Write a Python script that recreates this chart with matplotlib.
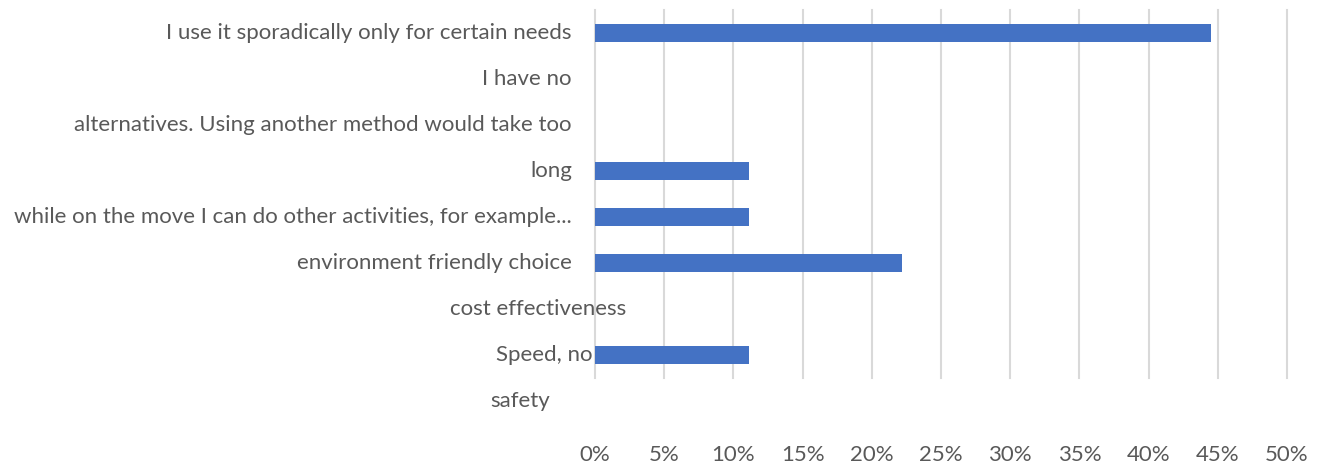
import matplotlib
matplotlib.use("Agg")
import matplotlib.pyplot as plt
from matplotlib.ticker import FuncFormatter

# data
labels = ["I use it sporadically only for certain needs",
          "I have no",
          "alternatives. Using another method would take too",
          "long",
          "while on the move I can do other activities, for example...",
          "environment friendly choice",
          "cost effectiveness",
          "Speed, no",
          "safety"]
values = [44.5, 0, 0, 11.1, 11.1, 22.2, 0, 11.1, 0]
xticks = [0, 5, 10, 15, 20, 25, 30, 35, 40, 45, 50]

# label placement (pixel offset from the 0% line, alignment)
label_offset = [-23, -23, -23, -23, -23, -23, -57, -2, -75]
label_ha = ["right"] * 6 + ["center", "right", "center"]

TEXT = "#595959"
GRID = "#D9D9D9"
BAR = "#4472C4"
FS = 16

plt.rcParams['font.family'] = ['Lato', 'DejaVu Sans']

fig = plt.figure(figsize=(13.28, 4.68), dpi=100)
ax = fig.add_axes([595/1328, 1 - 378/468, 692/1328, 368/468])

ypos = list(range(len(labels)))
ax.barh(ypos[:8], values[:8], height=0.37, color=BAR, zorder=3)

ax.set_xlim(0, 50)
ax.set_ylim(7.5, -0.5)
ax.set_xticks(xticks)
ax.xaxis.set_major_formatter(FuncFormatter(lambda v, p: "%d%%" % v))
ax.grid(axis="x", color=GRID, linewidth=1.5, zorder=0)
for gl in ax.get_xgridlines():
    gl.set_clip_on(False)
ax.tick_params(axis="x", length=0, pad=48, labelsize=FS, labelcolor=TEXT)
ax.set_yticks([])
for s in ax.spines.values():
    s.set_visible(False)

for i, lab in enumerate(labels):
    ax.annotate(lab, xy=(0, i), xycoords=ax.get_yaxis_transform(),
                xytext=(label_offset[i] * 0.72, 0), textcoords="offset points",
                ha=label_ha[i], va="center", fontsize=FS, color=TEXT,
                annotation_clip=False)

fig.savefig("out.png", dpi=100)
